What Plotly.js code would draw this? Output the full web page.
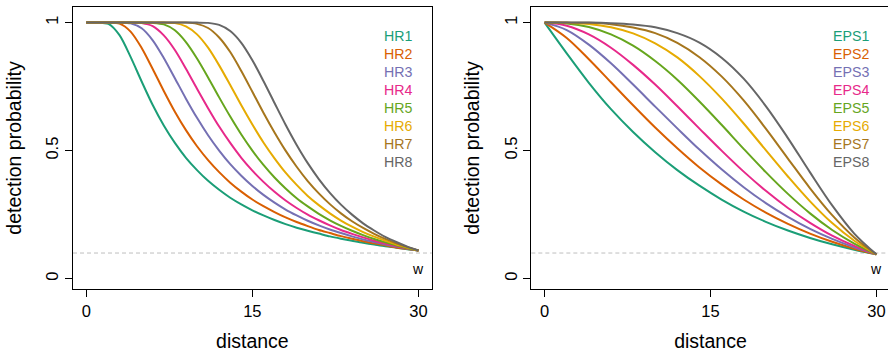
<!DOCTYPE html>
<html>
<head>
<meta charset="utf-8">
<script src="https://cdn.plot.ly/plotly-3.0.1.min.js"></script>
<style>
  html, body { margin: 0; padding: 0; overflow: hidden; background: #fff; }
  #chart { width: 890px; height: 353px; }
</style>
</head>
<body>
<div id="chart"></div>
<script>
// ---- data ----
const hrDistance = [0,1,2,3,4,5,6,7,8,9,10,11,12,13,14,15,16,17,18,19,20,21,22,23,24,25,26,27,28,29,30];
const hrNames = ["HR1","HR2","HR3","HR4","HR5","HR6","HR7","HR8"];
const HR1 = [1,1,0.995,0.951,0.866,0.770,0.678,0.598,0.530,0.472,0.424,0.382,0.347,0.316,0.290,0.267,0.247,0.229,0.213,0.199,0.187,0.176,0.165,0.156,0.148,0.140,0.133,0.126,0.121,0.115,0.110];
const HR2 = [1,1,1,0.996,0.965,0.901,0.819,0.733,0.652,0.580,0.517,0.463,0.416,0.375,0.340,0.309,0.283,0.260,0.239,0.221,0.205,0.190,0.178,0.166,0.156,0.146,0.138,0.130,0.122,0.116,0.110];
const HR3 = [1,1,1,1,0.997,0.978,0.931,0.862,0.783,0.703,0.628,0.560,0.500,0.447,0.402,0.362,0.327,0.297,0.270,0.247,0.226,0.208,0.192,0.178,0.165,0.153,0.143,0.133,0.125,0.117,0.110];
const HR4 = [1,1,1,1,1,0.998,0.986,0.950,0.893,0.820,0.742,0.666,0.594,0.530,0.472,0.422,0.378,0.339,0.305,0.276,0.250,0.228,0.208,0.190,0.175,0.161,0.148,0.137,0.127,0.118,0.110];
const HR5 = [1,1,1,1,1,1,0.999,0.993,0.970,0.924,0.860,0.786,0.708,0.633,0.563,0.500,0.444,0.395,0.352,0.314,0.282,0.253,0.228,0.206,0.187,0.170,0.155,0.142,0.130,0.119,0.110];
const HR6 = [1,1,1,1,1,1,1,1,0.998,0.985,0.954,0.902,0.833,0.756,0.677,0.602,0.532,0.470,0.414,0.366,0.323,0.287,0.255,0.227,0.203,0.182,0.164,0.148,0.133,0.121,0.110];
const HR7 = [1,1,1,1,1,1,1,1,1,1,0.995,0.979,0.942,0.885,0.811,0.730,0.648,0.571,0.500,0.437,0.381,0.333,0.291,0.255,0.224,0.198,0.175,0.155,0.138,0.123,0.110];
const HR8 = [1,1,1,1,1,1,1,1,1,1,1,0.999,0.991,0.967,0.921,0.853,0.772,0.686,0.601,0.522,0.451,0.389,0.335,0.289,0.250,0.216,0.188,0.163,0.143,0.125,0.110];

const epsDistance = [0,2,4,6,8,10,12,14,16,18,20,22,24,26,28,30];
const epsNames = ["EPS1","EPS2","EPS3","EPS4","EPS5","EPS6","EPS7","EPS8"];
const EPS1 = [1,0.880,0.765,0.662,0.573,0.494,0.424,0.363,0.309,0.262,0.222,0.188,0.159,0.134,0.113,0.095];
const EPS2 = [1,0.940,0.857,0.767,0.677,0.590,0.509,0.434,0.368,0.309,0.258,0.214,0.176,0.144,0.117,0.095];
const EPS3 = [1,0.971,0.914,0.841,0.758,0.672,0.587,0.504,0.427,0.357,0.295,0.241,0.194,0.155,0.122,0.095];
const EPS4 = [1,0.988,0.954,0.902,0.835,0.758,0.673,0.586,0.500,0.418,0.343,0.276,0.218,0.168,0.128,0.095];
const EPS5 = [1,0.997,0.983,0.954,0.910,0.850,0.777,0.692,0.601,0.507,0.416,0.331,0.255,0.190,0.137,0.095];
const EPS6 = [1,0.999,0.995,0.982,0.958,0.919,0.864,0.791,0.704,0.606,0.502,0.399,0.302,0.217,0.148,0.095];
const EPS7 = [1,1,0.999,0.994,0.981,0.959,0.921,0.865,0.790,0.696,0.586,0.469,0.353,0.248,0.161,0.095];
const EPS8 = [1,1,1,0.998,0.993,0.982,0.959,0.922,0.863,0.781,0.674,0.549,0.415,0.286,0.176,0.095];

const truncation = 0.1;        // dashed reference level
const xTicks = [0, 15, 30];
const yTicks = [0, 0.5, 1];
const yTickText = ["0", "0.5", "1"];
const xLabel = "distance";
const yLabel = "detection probability";
const wLabel = "w";

const colors = ["#1B9E77","#D95F02","#7570B3","#E7298A","#66A61E","#E6AB02","#A6761D","#666666"];

// ---- build traces ----
const hrSeries = [HR1,HR2,HR3,HR4,HR5,HR6,HR7,HR8];
const epsSeries = [EPS1,EPS2,EPS3,EPS4,EPS5,EPS6,EPS7,EPS8];
const traces = [];
hrSeries.forEach((ys, i) => traces.push({
  x: hrDistance, y: ys, type: "scatter", mode: "lines", name: hrNames[i],
  line: {color: colors[i], width: 2, shape: "spline", smoothing: 0.8},
  xaxis: "x", yaxis: "y", hoverinfo: "skip"
}));
epsSeries.forEach((ys, i) => traces.push({
  x: epsDistance, y: ys, type: "scatter", mode: "lines", name: epsNames[i],
  line: {color: colors[i], width: 2, shape: "spline", smoothing: 1},
  xaxis: "x2", yaxis: "y2", hoverinfo: "skip"
}));

const FONT = "Liberation Sans, Arial, Helvetica, sans-serif";
function xAxis(domain, anchor) {
  return {
    domain: domain, anchor: anchor, range: [-1.2, 31.2],
    tickmode: "array", tickvals: xTicks, ticktext: xTicks.map(String),
    ticks: "outside", ticklen: 7, tickwidth: 1, tickcolor: "#000",
    showline: true, mirror: true, linecolor: "#000", linewidth: 1,
    showgrid: false, zeroline: false,
    tickfont: {family: FONT, size: 16.5, color: "#000"},
    title: {text: xLabel, font: {family: FONT, size: 19.5, color: "#000"}, standoff: 15}
  };
}
function yAxis(anchor) {
  return {
    domain: [0, 1], anchor: anchor, range: [-0.0405, 1.061],
    tickmode: "array", tickvals: yTicks, ticktext: yTickText, tickangle: -90,
    ticks: "outside", ticklen: 7, tickwidth: 1, tickcolor: "#000",
    showline: true, mirror: true, linecolor: "#000", linewidth: 1,
    showgrid: false, zeroline: false,
    tickfont: {family: FONT, size: 16.5, color: "#000"},
    title: {text: yLabel, font: {family: FONT, size: 19.5, color: "#000"}, standoff: 16}
  };
}

const annotations = [];
hrNames.forEach((n, i) => annotations.push({
  xref: "x", yref: "y", x: 26.67, y: 0.946 - i * 0.0703, text: n, showarrow: false,
  xanchor: "left", yanchor: "middle", font: {family: FONT, size: 14.2, color: colors[i]}
}));
epsNames.forEach((n, i) => annotations.push({
  xref: "x2", yref: "y2", x: 25.92, y: 0.946 - i * 0.0703, text: n, showarrow: false,
  xanchor: "left", yanchor: "middle", font: {family: FONT, size: 14.2, color: colors[i]}
}));
[["x","y"],["x2","y2"]].forEach(([xr, yr]) => annotations.push({
  xref: xr, yref: yr, x: 30, y: 0.038, text: wLabel, showarrow: false,
  xanchor: "center", yanchor: "middle", font: {family: FONT, size: 14, color: "#000"}
}));

const shapes = [["x","y"],["x2","y2"]].map(([xr, yr]) => ({
  type: "line", xref: xr + " domain", yref: yr, x0: 0, x1: 1, y0: truncation, y1: truncation,
  line: {color: "#BEBEBE", width: 1, dash: "4px,3px"}, layer: "below"
}));

const layout = {
  width: 890, height: 353,
  margin: {l: 73, r: 0, t: 7, b: 64, pad: 0},
  paper_bgcolor: "#fff", plot_bgcolor: "#fff",
  showlegend: false,
  font: {family: FONT, color: "#000"},
  xaxis: xAxis([0, 0.4391], "y"),
  yaxis: yAxis("x"),
  xaxis2: xAxis([0.561, 0.9996], "y2"),
  yaxis2: yAxis("x2"),
  annotations: annotations,
  shapes: shapes
};

Plotly.newPlot("chart", traces, layout, {staticPlot: true, displayModeBar: false});
</script>
</body>
</html>
